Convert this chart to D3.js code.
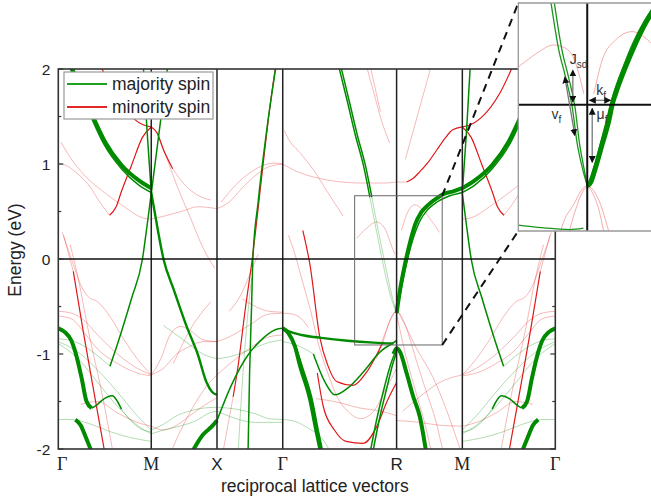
<!DOCTYPE html>
<html>
<head>
<meta charset="utf-8">
<script src="https://cdn.jsdelivr.net/npm/d3@7"></script>
<style>
  body { margin: 0; background: #fff; }
  svg { display: block; font-family: "Liberation Sans", Arial, sans-serif; }
</style>
</head>
<body>
<script>
// high symmetry points along the path (units of 2pi/a)
const kPoints = [0, 0.7071, 1.2071, 1.7071, 2.5731, 3.0731, 3.7802];
const kLabels = ["Γ", "M", "X", "Γ", "R", "M", "Γ"];
const serifLabels = ["Γ", "M"];
const yTicks = [-2, -1, 0, 1, 2];
const yMinorTicks = [-1.5, -0.5, 0.5, 1.5];

// Γ-M segment, drawn again mirrored for M-Γ
const gmMajThick = [
  [[0.09, 2.05], [0.2, 1.70], [0.28, 1.45], [0.355, 1.235], [0.48, 0.99], [0.61, 0.83], [0.7071, 0.745]],
  [[0, -0.73], [0.05, -0.77], [0.1, -0.86], [0.13, -0.98], [0.177, -1.25], [0.215, -1.50], [0.254, -1.57]],
  [[0.13, -1.69], [0.17, -1.75], [0.21, -1.88], [0.26, -2.05]]
];
const gmMajMid = [
  [[0.075, 2.05], [0.19, 1.70], [0.27, 1.43], [0.35, 1.20], [0.48, 0.95], [0.61, 0.78], [0.7071, 0.70]],
  [[0.646, 2.05], [0.675, 1.35], [0.7071, 0.70]],
  [[0.393, -1.13], [0.43, -0.98], [0.48, -0.765], [0.558, -0.41], [0.64, 0.0], [0.675, 0.35], [0.7071, 0.69]],
  [[0.254, -1.57], [0.29, -1.54], [0.33, -1.49], [0.41, -1.44], [0.45, -1.50], [0.48, -1.58]]
];
const gmMajFaint = [
  [[0, -0.84], [0.1, -0.86], [0.2, -0.92], [0.30, -1.02], [0.393, -1.13]],
  [[0, -0.87], [0.15, -0.98], [0.3, -1.17], [0.45, -1.40], [0.6, -1.65], [0.7071, -1.80]],
  [[0, -0.89], [0.15, -1.05], [0.3, -1.3], [0.45, -1.55], [0.6, -1.75], [0.7071, -1.84]],
  [[0, -1.69], [0.1, -1.69], [0.25, -1.74], [0.4, -1.82], [0.55, -1.88], [0.7071, -1.92]],
  [[0.48, -1.58], [0.55, -1.70], [0.63, -1.79], [0.7071, -1.82]]
];
const gmMinMid = [
  [[0.317, 2.05], [0.42, 1.75], [0.57, 1.48], [0.65, 1.41], [0.7071, 1.39]],
  [[0.39, 0.46], [0.44, 0.55], [0.48, 0.71], [0.558, 0.99], [0.64, 1.28], [0.7071, 1.39]],
  [[0.114, -0.13], [0.19, -0.765], [0.28, -1.47], [0.355, -2.05]]
];
const gmMinFaint = [
  [[0, 1.0], [0.05, 0.99], [0.127, 0.92], [0.23, 0.78], [0.33, 0.57], [0.39, 0.46]],
  [[0.02, 1.23], [0.1, 1.05], [0.2, 0.88], [0.35, 0.70], [0.48, 0.57], [0.65, 0.43], [0.7071, 0.42]],
  [[0.04, 0.25], [0.114, -0.13]],
  [[0.09, 0.15], [0.14, -0.13], [0.23, -0.765], [0.34, -1.47], [0.418, -2.05]],
  [[0.03, 0.28], [0.1, 0.0], [0.18, -0.30], [0.23, -0.40], [0.3, -0.45], [0.4, -0.62], [0.5, -0.85], [0.6, -1.05], [0.7071, -1.22]],
  [[0, -0.55], [0.1, -0.57], [0.2, -0.65], [0.3, -0.80], [0.45, -1.0], [0.6, -1.15], [0.7071, -1.22]],
  [[0, -0.60], [0.1, -0.63], [0.2, -0.78], [0.3, -0.95], [0.45, -1.1], [0.6, -1.2], [0.7071, -1.23]],
  [[0.17, -1.53], [0.3, -1.50], [0.45, -1.62], [0.6, -1.72], [0.7071, -1.76]]
];

// M - X - Γ - R - M
const majThick = [
  [[1.01, -2.05], [1.1, -1.85], [1.17, -1.76], [1.2071, -1.70]],
  [[1.7071, -0.73], [1.75, -0.78], [1.80, -0.92], [1.838, -1.12], [1.914, -1.47], [1.965, -1.82], [2.0, -2.05]],
  [[2.55, -1.0], [2.5731, -0.94], [2.60, -0.98], [2.649, -1.2], [2.70, -1.45], [2.75, -1.66], [2.80, -2.05]],
  [[2.5731, -0.57], [2.60, -0.32], [2.636, -0.06], [2.68, 0.2], [2.713, 0.36], [2.76, 0.49], [2.814, 0.57], [2.88, 0.64], [2.941, 0.69], [3.0, 0.71], [3.0731, 0.745]]
];
const majBold = [
  [[0.7071, 0.70], [0.75, 0.36], [0.80, 0.0], [0.88, -0.33], [0.976, -0.71], [1.06, -1.0], [1.128, -1.30], [1.17, -1.40], [1.2071, -1.43]],
  [[1.7071, -0.73], [1.75, -0.76], [1.85, -0.80], [2.0, -0.83], [2.2, -0.86], [2.4, -0.88], [2.55, -0.89]]
];
const majMid = [
  [[0.7071, 0.69], [0.77, 1.37], [0.834, 2.05]],
  [[1.443, -2.05], [1.455, -1.2], [1.47, -0.5], [1.48, 0], [1.52, 0.6], [1.58, 1.3], [1.658, 2.05]],
  [[1.2071, -1.70], [1.316, -1.33], [1.443, -1.01], [1.53, -0.87], [1.595, -0.79], [1.65, -0.745], [1.7071, -0.73]],
  [[2.129, 2.05], [2.2, 1.65], [2.26, 1.3], [2.32, 0.99], [2.37, 0.65]],
  [[2.145, 2.05], [2.215, 1.65], [2.275, 1.3], [2.335, 0.99], [2.385, 0.65]],
  [[1.72, -0.74], [1.77, -0.82], [1.82, -0.98], [1.86, -1.15], [1.93, -1.47], [1.98, -1.82], [2.015, -2.05]],
  [[1.94, -1.0], [2.03, -1.3], [2.104, -1.43], [2.2, -1.36], [2.32, -1.19], [2.446, -0.98], [2.55, -0.88], [2.5731, -0.86]],
  [[2.37, -2.05], [2.42, -1.7], [2.48, -1.35], [2.53, -1.10], [2.5731, -0.95]],
  [[2.39, -2.05], [2.44, -1.7], [2.5, -1.35], [2.545, -1.10], [2.5731, -0.98]],
  [[2.5731, -0.57], [2.61, -0.30], [2.65, -0.04], [2.70, 0.22], [2.75, 0.40], [2.81, 0.52], [2.88, 0.60], [2.95, 0.65], [3.0731, 0.70]]
];
const majFaint = [
  [[2.37, 0.65], [2.421, 0.29], [2.47, -0.05], [2.523, -0.37], [2.5731, -0.57]],
  [[2.385, 0.65], [2.435, 0.29], [2.485, -0.05], [2.535, -0.37], [2.5731, -0.57]],
  [[1.7071, -0.87], [1.8, -0.9], [1.88, -0.95], [1.94, -1.0]],
  [[1.7071, -1.69], [1.8, -1.71], [1.9, -1.78], [2.0, -1.88], [2.08, -2.05]],
  [[0.7071, -1.80], [0.8, -1.74], [0.9, -1.65], [1.0, -1.6], [1.1, -1.57], [1.2071, -1.56]],
  [[0.7071, -1.84], [0.8, -1.80], [0.95, -1.75], [1.05, -1.70], [1.15, -1.62], [1.2071, -1.60]],
  [[0.80, -0.70], [0.95, -0.85], [1.1, -1.0], [1.2071, -1.05]],
  [[1.2071, -1.05], [1.3, -1.03], [1.45, -0.96], [1.6, -0.88], [1.7071, -0.85]],
  [[1.2071, -1.56], [1.35, -1.58], [1.5, -1.63], [1.6, -1.68], [1.7071, -1.69]],
  [[1.2071, -1.60], [1.35, -1.68], [1.5, -1.72], [1.7071, -1.72]],
  [[1.367, -2.05], [1.40, -1.3], [1.44, -0.6], [1.47, -0.2]]
];
const minMid = [
  [[0.7071, 1.39], [0.75, 1.33], [0.80, 1.15], [0.87, 0.95]],
  [[1.33, -1.45], [1.37, -1.1], [1.42, -0.55], [1.475, 0.0], [1.55, 0.9], [1.60, 1.5], [1.655, 2.05]],
  [[2.65, 0.81], [2.70, 0.85], [2.75, 0.92], [2.814, 1.02], [2.88, 1.15], [2.941, 1.27], [3.0, 1.36], [3.0731, 1.39]],
  [[1.86, 0.3], [1.914, -0.06], [1.99, -0.83], [2.05, -1.12], [2.117, -1.29], [2.243, -1.33], [2.345, -1.19], [2.471, -0.87]],
  [[1.97, -1.2], [2.015, -1.55], [2.1, -1.80], [2.19, -1.92], [2.32, -1.94], [2.42, -1.77], [2.50, -1.5], [2.5731, -1.3]]
];
const minFaint = [
  [[0.87, 0.95], [0.95, 0.80], [1.05, 0.68], [1.16, 0.62]],
  [[0.75, 1.33], [0.82, 1.08], [0.90, 0.78], [1.0, 0.45], [1.10, 0.12], [1.19, -0.10]],
  [[0.7071, 0.42], [0.8, 0.45], [0.935, 0.50], [1.06, 0.55], [1.2071, 0.53]],
  [[1.2071, 0.53], [1.30, 0.60], [1.40, 0.75], [1.5, 0.88], [1.6, 0.97], [1.7071, 1.0]],
  [[1.24, 0.60], [1.35, 0.78], [1.45, 0.90], [1.55, 0.98], [1.65, 1.01], [1.7071, 1.0]],
  [[0.7071, -1.22], [0.78, -1.05], [0.85, -0.80], [0.93, -0.71], [1.0, -0.75], [1.1, -0.85], [1.2071, -0.87]],
  [[0.7071, -1.22], [0.8, -1.15], [0.9, -1.0], [1.0, -0.92], [1.1, -0.87], [1.2071, -0.87]],
  [[0.85, -2.05], [0.95, -1.75], [1.05, -1.5], [1.15, -1.3], [1.2071, -1.22]],
  [[0.7071, -1.76], [0.8, -1.80], [0.9, -1.75], [1.0, -1.65], [1.1, -1.55], [1.2071, -1.46]],
  [[0.875, -1.10], [1.0, -0.75], [1.16, -0.45]],
  [[1.2071, -0.87], [1.3, -0.82], [1.45, -0.70], [1.6, -0.58], [1.7071, -0.57]],
  [[1.2071, -1.22], [1.35, -1.05], [1.5, -0.90], [1.6, -0.82], [1.7071, -0.80]],
  [[1.30, -0.55], [1.38, -0.40], [1.46, -0.15], [1.52, 0.05]],
  [[1.40, -0.42], [1.5, -0.50], [1.6, -0.55], [1.7071, -0.56]],
  [[1.25, -2.05], [1.29, -1.75], [1.33, -1.45]],
  [[2.34, 2.05], [2.40, 1.75], [2.46, 1.45], [2.52, 1.22]],
  [[2.37, 2.05], [2.41, 1.8], [2.45, 1.55]],
  [[1.72, 1.35], [1.74, 1.29], [1.85, 1.10], [1.94, 0.94], [2.05, 0.70], [2.167, 0.45]],
  [[1.7071, 1.0], [1.8, 0.93], [1.95, 0.86], [2.1, 0.82], [2.3, 0.80], [2.5, 0.80], [2.5731, 0.81], [2.65, 0.81]],
  [[2.27, 0.22], [2.35, 0.33], [2.42, 0.39], [2.48, 0.33], [2.54, 0.12], [2.56, 0.05]],
  [[2.61, 0.30], [2.66, 0.50], [2.71, 0.57], [2.77, 0.52], [2.84, 0.40], [2.90, 0.28]],
  [[2.42, -1.05], [2.48, -0.80], [2.53, -0.63], [2.5731, -0.55], [2.62, -0.63], [2.67, -0.82], [2.73, -1.1], [2.8, -1.4], [2.87, -1.7], [2.93, -2.05]],
  [[2.471, -0.87], [2.5731, -0.55], [2.62, -0.65], [2.713, -0.91], [2.865, -1.29], [2.966, -1.64], [3.068, -2.05]],
  [[2.5731, -0.58], [2.64, -1.0], [2.73, -1.45], [2.80, -1.8], [2.84, -2.05]],
  [[2.62, -1.6], [2.75, -1.45], [2.9, -1.3], [3.0731, -1.22]],
  [[2.64, 1.05], [2.70, 1.35], [2.78, 1.75], [2.84, 2.05]],
  [[2.5731, -1.70], [2.75, -1.72], [2.9, -1.75], [3.0731, -1.76]],
  [[1.75, 0.25], [1.80, 0.05], [1.85, -0.20], [1.92, -0.55], [1.98, -0.90], [2.05, -1.20], [2.12, -1.45], [2.20, -1.60], [2.30, -1.68], [2.40, -1.60], [2.48, -1.40], [2.5731, -1.15]],
  [[1.96, -1.47], [2.1, -1.50], [2.3, -1.57], [2.45, -1.60], [2.5731, -1.65]],
  [[1.7071, -0.57], [1.78, -0.58], [1.85, -0.63], [1.90, -0.72]]
];

// zoom window (k, E) and inset bands (k measured from R)
const zoomK = [2.254, 2.920];
const zoomE = [-0.905, 0.666];
const insetMajThick = [
  [[0, -0.559], [0.0086, -0.536], [0.0217, -0.432], [0.0392, -0.270], [0.0564, -0.109], [0.065, 0], [0.0739, 0.076], [0.1, 0.260], [0.126, 0.422], [0.152, 0.561], [0.175, 0.66]]
];
const insetMajMid = [
  [[-0.0958, 0.722], [-0.0742, 0.376], [-0.0567, 0.191], [-0.0392, -0.017], [-0.0261, -0.270], [-0.0131, -0.432], [0, -0.559]],
  [[-0.0871, 0.722], [-0.0660, 0.376], [-0.049, 0.191], [-0.032, -0.017], [-0.020, -0.270], [-0.009, -0.432], [0, -0.559]],
  [[0, -0.559], [0.016, -0.45], [0.033, -0.28], [0.05, -0.11], [0.068, 0.07], [0.095, 0.27], [0.12, 0.43], [0.15, 0.58], [0.17, 0.66]],
  [[-0.18, -0.83], [-0.13, -0.845], [-0.08, -0.855], [-0.045, -0.86], [-0.01, -0.85]]
];
const insetMinFaint = [
  [[-0.18, 0.26], [-0.1567, 0.307], [-0.1264, 0.364], [-0.0872, 0.411], [-0.0653, 0.399], [-0.0392, 0.341], [-0.0089, 0.076]],
  [[0.0172, 0.076], [0.0392, 0.307], [0.0739, 0.445], [0.1175, 0.503], [0.1478, 0.468], [0.175, 0.40]],
  [[-0.07, -0.88], [-0.0653, -0.836], [-0.035, -0.686], [-0.0131, -0.582], [0, -0.559], [0.0131, -0.582], [0.0347, -0.686], [0.0522, -0.836], [0.057, -0.88]],
  [[-0.05, -0.9], [-0.03, -0.72], [-0.012, -0.6], [0, -0.565], [0.012, -0.6], [0.03, -0.72], [0.045, -0.9]]
];
const insetArrows = [
  [-0.0376, 0.2375, -0.0376, 0.018],
  [-0.0585, 0.191, -0.0324, -0.212],
  [0.006, 0.03, 0.0608, 0.03],
  [0.013, -0.026, 0.013, -0.397]
];
const insetLabels = [
  ["J", "sd", -0.0456, 0.28],
  ["v", "f", -0.093, -0.10],
  ["k", "f", 0.0235, 0.066],
  ["μ", "f", 0.0245, -0.10]
];
const legendItems = [["majority spin", "#22a022"], ["minority spin", "#e02828"]];

const W = 651, H = 502;
const plotL = 58.3, plotR = 555.3, plotT = 69, plotB = 449;
const insL = 518.3, insT = 3, insB = 231, insR = 652;

const GREEN = "#008a00", RED = "#e01818";
const styles = [
  ["minFaint", RED, 1, 0.3],
  ["majFaint", GREEN, 1, 0.3],
  ["minMid", RED, 1.2, 1],
  ["majMid", GREEN, 1.5, 1],
  ["majBold", GREEN, 2.4, 1],
  ["majThick", GREEN, 4, 1]
];

const svg = d3.select("body").append("svg").attr("width", W).attr("height", H);

const x = d3.scaleLinear().domain([kPoints[0], kPoints[6]]).range([plotL, plotR]);
const y = d3.scaleLinear().domain([-2, 2]).range([plotB, plotT]);

svg.append("clipPath").attr("id", "plotClip")
  .append("rect").attr("x", plotL).attr("y", plotT).attr("width", plotR - plotL).attr("height", plotB - plotT);

const mirror = (band) => band.map(d => [kPoints[6] - d[0], d[1]]).reverse();
const bandSets = {
  minFaint: [...gmMinFaint, ...gmMinFaint.map(mirror), ...minFaint],
  majFaint: [...gmMajFaint, ...gmMajFaint.map(mirror), ...majFaint],
  minMid: [...gmMinMid, ...gmMinMid.map(mirror), ...minMid],
  majMid: [...gmMajMid, ...gmMajMid.map(mirror), ...majMid],
  majBold: majBold,
  majThick: [...gmMajThick, ...gmMajThick.map(mirror), ...majThick]
};

const bandGroup = svg.append("g").attr("clip-path", "url(#plotClip)");
const line = d3.line().x(d => x(d[0])).y(d => y(d[1])).curve(d3.curveMonotoneX);

styles.forEach(([name, color, w, op]) => {
  bandGroup.append("g").selectAll("path")
    .data(bandSets[name])
    .enter()
    .append("path")
    .attr("d", line)
    .attr("fill", "none")
    .attr("stroke", color)
    .attr("stroke-width", w)
    .attr("stroke-opacity", op)
    .attr("stroke-linejoin", "round");
});

// symmetry lines, zero line, frame
const frame = svg.append("g");
frame.selectAll(".sym")
  .data(kPoints.slice(1, 6))
  .enter()
  .append("line")
  .attr("x1", d => x(d)).attr("x2", d => x(d))
  .attr("y1", plotT).attr("y2", plotB)
  .attr("stroke", "#222").attr("stroke-width", 1.5);
frame.append("line")
  .attr("x1", plotL).attr("x2", plotR).attr("y1", y(0)).attr("y2", y(0))
  .attr("stroke", "#111").attr("stroke-width", 1.5);
frame.append("rect")
  .attr("x", plotL).attr("y", plotT).attr("width", plotR - plotL).attr("height", plotB - plotT)
  .attr("fill", "none").attr("stroke", "#333").attr("stroke-width", 1.6);

// ticks inside on both sides
[[plotL, 1], [plotR, -1]].forEach(([x0, dir]) => {
  frame.selectAll(null).data(yTicks).enter().append("line")
    .attr("x1", x0).attr("x2", x0 + dir * 5).attr("y1", d => y(d)).attr("y2", d => y(d))
    .attr("stroke", "#333").attr("stroke-width", 1.2);
  frame.selectAll(null).data(yMinorTicks).enter().append("line")
    .attr("x1", x0).attr("x2", x0 + dir * 3).attr("y1", d => y(d)).attr("y2", d => y(d))
    .attr("stroke", "#333").attr("stroke-width", 1.2);
});

svg.append("g").selectAll("text")
  .data(yTicks)
  .enter()
  .append("text")
  .attr("x", plotL - 8).attr("y", d => y(d) + 5.5)
  .attr("text-anchor", "end").attr("font-size", 15.5).attr("fill", "#222")
  .text(d => d);

svg.append("g").selectAll("text")
  .data(kPoints)
  .enter()
  .append("text")
  .attr("x", (d, i) => x(d) + (i === 0 ? 4 : 0)).attr("y", 470)
  .attr("text-anchor", "middle")
  .attr("font-family", (d, i) => serifLabels.includes(kLabels[i]) ? "'Liberation Serif', 'Times New Roman', serif" : "'Liberation Sans', Arial, sans-serif")
  .attr("font-size", (d, i) => serifLabels.includes(kLabels[i]) ? 18 : 17)
  .attr("fill", "#222")
  .text((d, i) => kLabels[i]);

svg.append("text")
  .attr("x", (plotL + plotR) / 2 + 8).attr("y", 492)
  .attr("text-anchor", "middle").attr("font-size", 17.5).attr("fill", "#222")
  .text("reciprocal lattice vectors");

svg.append("text")
  .attr("transform", `translate(21, 250) rotate(-90)`)
  .attr("text-anchor", "middle").attr("font-size", 17.5).attr("fill", "#222")
  .text("Energy (eV)");

// zoom window
svg.append("rect")
  .attr("x", x(zoomK[0])).attr("y", y(zoomE[1]))
  .attr("width", x(zoomK[1]) - x(zoomK[0])).attr("height", y(zoomE[0]) - y(zoomE[1]))
  .attr("fill", "none").attr("stroke", "#666").attr("stroke-width", 1);

// legend
const legend = svg.append("g");
legend.append("rect").attr("x", 64).attr("y", 72).attr("width", 149).attr("height", 47)
  .attr("fill", "#fff").attr("stroke", "#999").attr("stroke-width", 1.2);
legendItems.forEach(([label, color], i) => {
  legend.append("line").attr("x1", 67).attr("x2", 107).attr("y1", 84 + i * 23).attr("y2", 84 + i * 23)
    .attr("stroke", color).attr("stroke-width", 2.2);
  legend.append("text").attr("x", 112).attr("y", 90 + i * 23)
    .attr("font-size", 17.5).attr("fill", "#222").text(label);
});

// connectors to inset
const connectors = [[zoomE[1], insT], [zoomE[0], insB]];
svg.append("g").selectAll("line")
  .data(connectors)
  .enter()
  .append("line")
  .attr("x1", x(zoomK[1])).attr("y1", d => y(d[0]))
  .attr("x2", insL).attr("y2", d => d[1])
  .attr("stroke", "#111").attr("stroke-width", 2).attr("stroke-dasharray", "8,6");

// inset
const xi = d3.scaleLinear().domain([-0.18, 0.18]).range([insL, insL + 0.36 * 383]);
const yi = d3.scaleLinear().domain([-0.87, 0.70]).range([insB, insT]);
const inset = svg.append("g");
inset.append("clipPath").attr("id", "insetClip")
  .append("rect").attr("x", insL).attr("y", insT).attr("width", insR - insL).attr("height", insB - insT);
inset.append("rect").attr("x", insL).attr("y", insT).attr("width", insR - insL).attr("height", insB - insT)
  .attr("fill", "#fff");
const insetBands = inset.append("g").attr("clip-path", "url(#insetClip)");
const iline = d3.line().x(d => xi(d[0])).y(d => yi(d[1])).curve(d3.curveMonotoneX);
[[insetMinFaint, RED, 1, 0.35], [insetMajMid, GREEN, 1.3, 0.9], [insetMajThick, GREEN, 5, 1]].forEach(([set, color, w, op]) => {
  insetBands.append("g").selectAll("path")
    .data(set)
    .enter()
    .append("path")
    .attr("d", iline)
    .attr("fill", "none").attr("stroke", color).attr("stroke-width", w).attr("stroke-opacity", op);
});
insetBands.append("line").attr("x1", xi(0)).attr("x2", xi(0)).attr("y1", insT).attr("y2", insB)
  .attr("stroke", "#111").attr("stroke-width", 2);
insetBands.append("line").attr("x1", insL).attr("x2", insR).attr("y1", yi(0)).attr("y2", yi(0))
  .attr("stroke", "#111").attr("stroke-width", 2);

const defs = svg.append("defs");
defs.append("marker").attr("id", "head").attr("viewBox", "0 0 10 10")
  .attr("refX", 9).attr("refY", 5).attr("markerWidth", 7).attr("markerHeight", 7)
  .attr("markerUnits", "userSpaceOnUse").attr("orient", "auto-start-reverse")
  .append("path").attr("d", "M0,0 L10,5 L0,10 z").attr("fill", "#111");

inset.append("g").selectAll("line")
  .data(insetArrows)
  .enter()
  .append("line")
  .attr("x1", d => xi(d[0])).attr("y1", d => yi(d[1]))
  .attr("x2", d => xi(d[2])).attr("y2", d => yi(d[3]))
  .attr("stroke", "#777").attr("stroke-width", 1.3)
  .attr("marker-start", "url(#head)").attr("marker-end", "url(#head)");

const labels = inset.append("g").selectAll("text")
  .data(insetLabels)
  .enter()
  .append("text")
  .attr("x", d => xi(d[2])).attr("y", d => yi(d[3]))
  .attr("font-size", 14).attr("fill", "#333");
labels.append("tspan").text(d => d[0]);
labels.append("tspan").attr("dy", 4).attr("font-size", 10).text(d => d[1]);

inset.append("path")
  .attr("d", `M${insR},${insT}H${insL}V${insB}H${insR}`)
  .attr("fill", "none").attr("stroke", "#999").attr("stroke-width", 1.3);
</script>
</body>
</html>
